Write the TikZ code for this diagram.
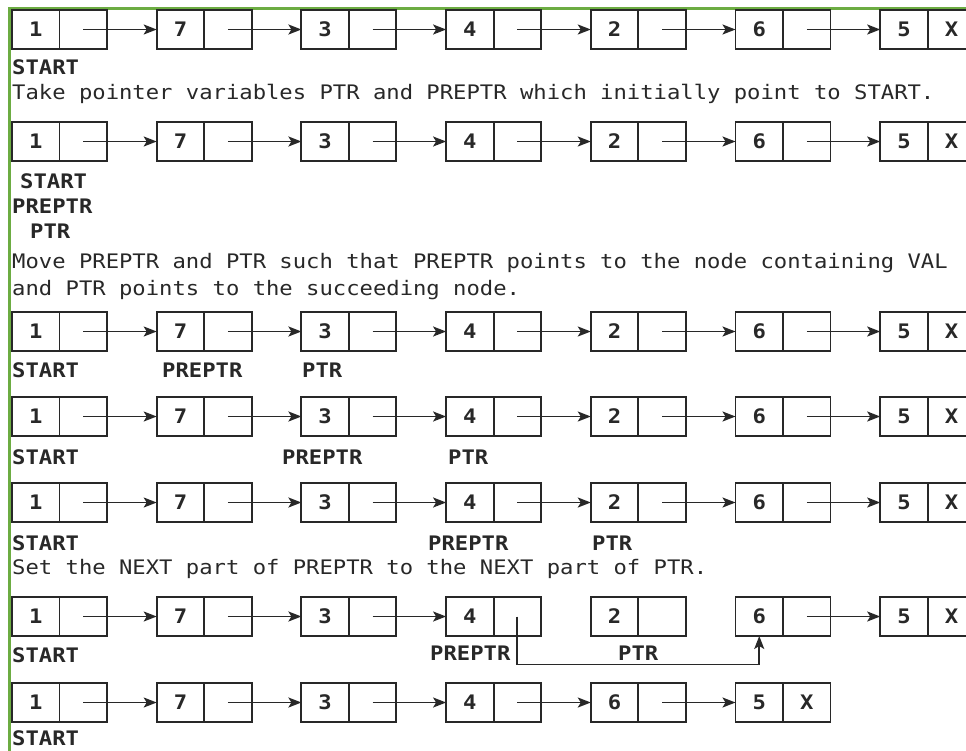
\documentclass[tikz,border=0pt]{standalone}
\usepackage{fontspec}
\newfontfamily\diagfont[FakeStretch=1.11]{DejaVu Sans Mono}
\usetikzlibrary{arrows.meta}
\definecolor{linec}{RGB}{40,40,40}
\definecolor{textc}{RGB}{40,40,40}
\definecolor{framegreen}{RGB}{108,172,66}
\tikzset{
  cell/.style={draw=linec, line width=1.9pt, minimum width=47.5pt, minimum height=39pt,
    inner sep=0pt, outer sep=0pt, anchor=north west,
    font=\diagfont\fontsize{20}{24}\selectfont\bfseries, text=textc},
  lbl/.style={anchor=base west, inner sep=0pt, text=textc,
    font=\diagfont\fontsize{20}{24}\selectfont\bfseries},
  txt/.style={anchor=base west, inner sep=0pt, text=textc,
    font=\diagfont\fontsize{20}{24}\selectfont},
  link/.style={draw=linec, line width=1.8pt, -{Stealth[length=13pt,width=10pt,inset=3pt]}},
  frame/.style={draw=framegreen, line width=3pt}
}
\newcommand\LLrow[3]{%
  \foreach \v/\p [count=\i from 0] in {#3} {
    \node[cell] (#1d\i) at ({12+144.7*\i},#2) {\v};
    \node[cell] (#1p\i) at ({59.5+144.7*\i},#2) {\p};
  }}
\newcommand\LLlinks[2]{%
  \foreach \a/\b in {#2} {\draw[link] (#1p\a.center) -- (#1d\b.west);}}
\begin{document}
\begin{tikzpicture}[x=1pt,y=-1pt]
\useasboundingbox[fill=white] (0,0) rectangle (966,750);
\draw[frame] (9.5,800) -- (9.5,8) -- (1000,8);

% row 1
\LLrow{ra}{10}{1/{},7/{},3/{},4/{},2/{},6/{},5/X}
\LLlinks{ra}{0/1,1/2,2/3,3/4,4/5,5/6}
\node[lbl] (sa) at (12,74) {START};
\node[txt] (t1) at (12,99) {Take pointer variables PTR and PREPTR which initially point to START.};

% row 2
\LLrow{rb}{122}{1/{},7/{},3/{},4/{},2/{},6/{},5/X}
\LLlinks{rb}{0/1,1/2,2/3,3/4,4/5,5/6}
\node[lbl] (sb) at (20,188) {START};
\node[lbl] (pb) at (12,213) {PREPTR};
\node[lbl] (qb) at (30,238) {PTR};
\node[txt] (t2) at (12,268) {Move PREPTR and PTR such that PREPTR points to the node containing VAL};
\node[txt] (t3) at (12,295) {and PTR points to the succeeding node.};

% row 3
\LLrow{rc}{312}{1/{},7/{},3/{},4/{},2/{},6/{},5/X}
\LLlinks{rc}{0/1,1/2,2/3,3/4,4/5,5/6}
\node[lbl] (sc) at (12,377) {START};
\node[lbl] (pc) at (162,377) {PREPTR};
\node[lbl] (qc) at (302,377) {PTR};

% row 4
\LLrow{rd}{397}{1/{},7/{},3/{},4/{},2/{},6/{},5/X}
\LLlinks{rd}{0/1,1/2,2/3,3/4,4/5,5/6}
\node[lbl] (sd) at (12,464) {START};
\node[lbl] (pd) at (282,464) {PREPTR};
\node[lbl] (qd) at (448,464) {PTR};

% row 5
\LLrow{re}{483}{1/{},7/{},3/{},4/{},2/{},6/{},5/X}
\LLlinks{re}{0/1,1/2,2/3,3/4,4/5,5/6}
\node[lbl] (se) at (12,550) {START};
\node[lbl] (pe) at (428,550) {PREPTR};
\node[lbl] (qe) at (592,550) {PTR};
\node[txt] (t4) at (12,574) {Set the NEXT part of PREPTR to the NEXT part of PTR.};

% row 6
\LLrow{rf}{597}{1/{},7/{},3/{},4/{},2/{},6/{},5/X}
\LLlinks{rf}{0/1,1/2,2/3,5/6}
\draw[link] (rfp3.center) -- ++(0,48) -| (rfd5.south);
\node[lbl] (sf) at (12,662) {START};
\node[lbl] (pf) at (430,660) {PREPTR};
\node[lbl] (qf) at (618,660) {PTR};

% row 7
\LLrow{rg}{683}{1/{},7/{},3/{},4/{},6/{},5/X}
\LLlinks{rg}{0/1,1/2,2/3,3/4,4/5}
\node[lbl] (sg) at (12,745) {START};
\end{tikzpicture}
\end{document}
